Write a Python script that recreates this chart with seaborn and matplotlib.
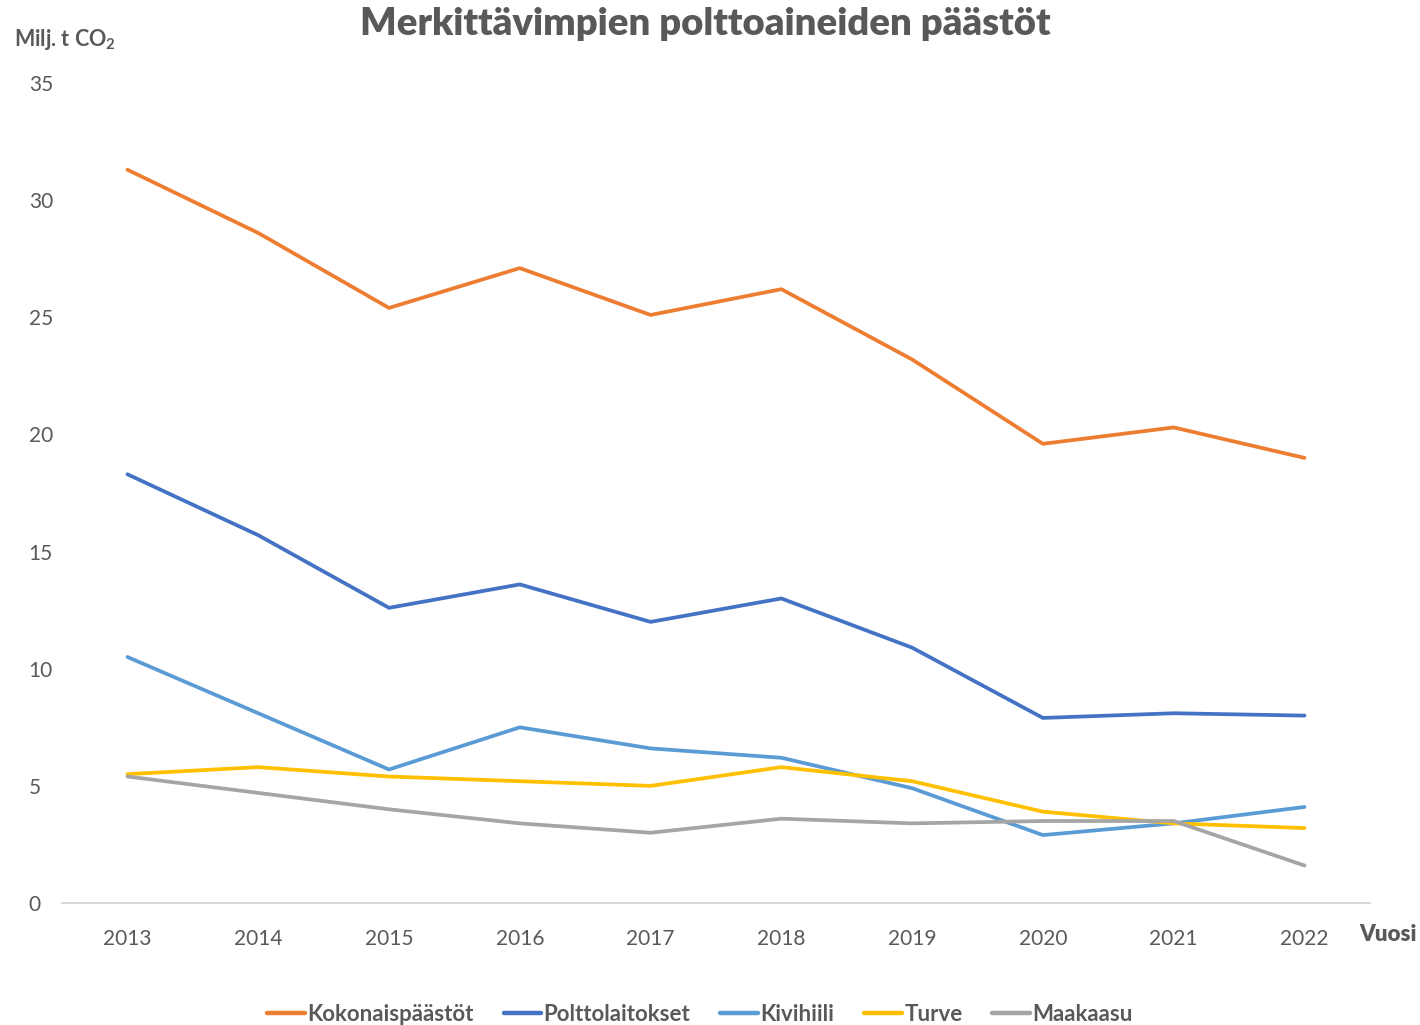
import pandas as pd
import matplotlib
matplotlib.use("Agg")
import matplotlib.pyplot as plt
import seaborn as sns

years = [2013, 2014, 2015, 2016, 2017, 2018, 2019, 2020, 2021, 2022]
kokonais = [31.3, 28.6, 25.4, 27.1, 25.1, 26.2, 23.2, 19.6, 20.3, 19.0]
polttolaitokset = [18.3, 15.7, 12.6, 13.6, 12.0, 13.0, 10.9, 7.9, 8.1, 8.0]
kivihiili = [10.5, 8.1, 5.7, 7.5, 6.6, 6.2, 4.9, 2.9, 3.4, 4.1]
turve = [5.5, 5.8, 5.4, 5.2, 5.0, 5.8, 5.2, 3.9, 3.4, 3.2]
maakaasu = [5.4, 4.7, 4.0, 3.4, 3.0, 3.6, 3.4, 3.5, 3.5, 1.6]

series = ["Kokonaispäästöt", "Polttolaitokset", "Kivihiili", "Turve", "Maakaasu"]
colors = ["#ED7D31", "#4472C4", "#5B9BD5", "#FFC000", "#A5A5A5"]

df = pd.DataFrame({"Vuosi": years, series[0]: kokonais, series[1]: polttolaitokset,
                   series[2]: kivihiili, series[3]: turve, series[4]: maakaasu})
long_df = df.melt(id_vars="Vuosi", var_name="Sarja", value_name="Päästöt")

sns.set_style("white")
plt.rcParams["font.family"] = ["Lato", "DejaVu Sans"]
plt.rcParams["mathtext.fontset"] = "custom"
plt.rcParams["mathtext.rm"] = "Lato:bold"
plt.rcParams["mathtext.bf"] = "Lato:bold"

grey = "#595959"
fig = plt.figure(figsize=(14.2, 10.25), dpi=100)
ax = fig.add_axes([0.0437, 0.119, 0.921, 0.8])

sns.lineplot(data=long_df, x="Vuosi", y="Päästöt", hue="Sarja", hue_order=series,
             palette=colors, linewidth=2.7, ax=ax, legend=False)

ax.set_xlim(2012.5, 2022.5)
ax.set_ylim(0, 35)
ax.set_xticks(years)
ax.set_yticks(range(0, 36, 5))
ax.tick_params(axis="both", labelsize=15, colors=grey, length=0)
ax.tick_params(axis="x", pad=19)
ax.tick_params(axis="y", pad=24)
for lbl in ax.get_yticklabels():
    lbl.set_horizontalalignment("left")
ax.set_xlabel("")
ax.set_ylabel("")
for side in ["top", "right", "left"]:
    ax.spines[side].set_visible(False)
ax.spines["bottom"].set_color("#D9D9D9")
ax.spines["bottom"].set_linewidth(1.5)

fig.text(0.4965, 0.977, "Merkittävimpien polttoaineiden päästöt", ha="center", va="center",
         fontsize=27.5, fontweight="heavy", color=grey)
fig.text(0.010, 0.961, r"Milj. t CO$_2$", ha="left", va="center",
         fontsize=15.5, fontweight="bold", color=grey)
fig.text(0.998, 0.088, "Vuosi", ha="right", va="center",
         fontsize=16, fontweight="heavy", color=grey)

handles = [plt.Line2D([], [], color=c, linewidth=3.2) for c in colors]
leg = fig.legend(handles, series, loc="center", bbox_to_anchor=(0.493, 0.010), ncol=5,
                 frameon=False, handlelength=1.7, handletextpad=0.1, columnspacing=1.35,
                 prop={"size": 16, "weight": "bold"})
for t in leg.get_texts():
    t.set_color(grey)

fig.savefig("out.png", dpi=100)
